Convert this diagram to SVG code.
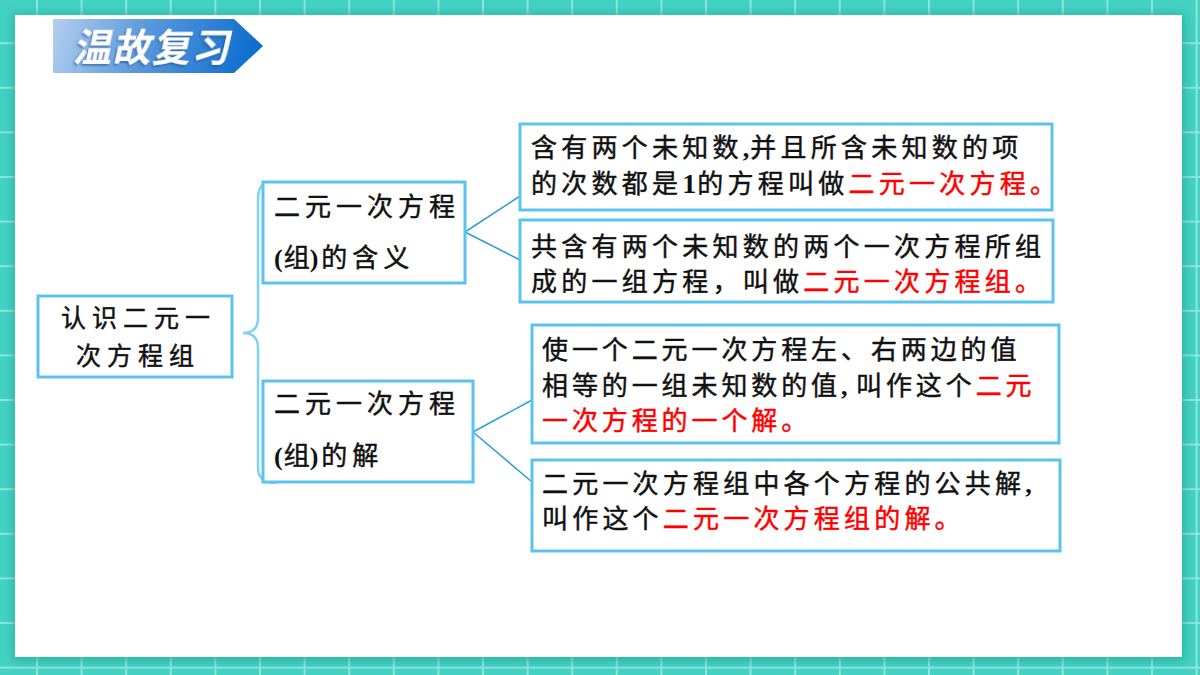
<svg xmlns="http://www.w3.org/2000/svg" width="1200" height="675" viewBox="0 0 1200 675">
<style>
.box{fill:#fff;stroke:#5BC4EE;stroke-width:3}
.t{font-family:"Noto Sans CJK SC","Noto Sans CJK JP",sans-serif;font-size:26px;fill:#111;stroke:#111;stroke-width:0.45px;letter-spacing:4.25px}
.r{fill:#FF0000;stroke:#FF0000}
.s{font-family:"Liberation Serif",serif;font-weight:bold;letter-spacing:1px;stroke-width:0}
.conn{fill:none;stroke:#2A9ED6;stroke-width:1.5}
.brace{fill:none;stroke:#80D2F2;stroke-width:2.5}
</style>
<defs>
<pattern id="grid" x="36" y="42.2" width="44.6" height="44.6" patternUnits="userSpaceOnUse">
<rect width="44.6" height="44.6" fill="#43D1C3"/>
<rect x="0" y="0" width="2" height="44.6" fill="#8FE4DB"/>
<rect x="0" y="0" width="44.6" height="2" fill="#8FE4DB"/>
</pattern>
<filter id="sh" x="-5%" y="-5%" width="110%" height="110%">
<feGaussianBlur stdDeviation="5"/>
</filter>
<linearGradient id="ban" x1="53" y1="19" x2="250" y2="80" gradientUnits="userSpaceOnUse">
<stop offset="0" stop-color="#B4CFEE"/>
<stop offset="0.45" stop-color="#5A98DC"/>
<stop offset="1" stop-color="#0A6DCE"/>
</linearGradient>
<filter id="tsh" x="-10%" y="-20%" width="120%" height="140%">
<feDropShadow dx="-1" dy="1.5" stdDeviation="0.8" flood-color="#1B4F8A" flood-opacity="0.7"/>
</filter>
</defs>

<rect width="1200" height="675" fill="url(#grid)"/>
<rect x="13" y="14" width="1172" height="647" fill="#1E9C8E" opacity="0.55" filter="url(#sh)"/>
<rect x="15" y="15" width="1167" height="642" fill="#fff"/>

<g id="title">
<path d="M53 19 H234 L263 46 L234 73 H53 Z" fill="url(#ban)"/>
<g transform="translate(73,61) skewX(-12)">
<text x="0" y="0" font-family="Noto Sans CJK SC,sans-serif" font-weight="bold" font-size="38" letter-spacing="1.5" fill="#fff" filter="url(#tsh)">温故复习</text>
</g>
</g>

<g id="connectors">
<path class="brace" d="M266 183 Q258 185 258 200 L258 318 Q258 333 243 333 Q258 333 258 348 L258 468 Q258 482 275 483"/>
<path class="conn" d="M465 232 L520 196 M465 232 L520 260"/>
<path class="conn" d="M473 432 L532 400 M473 432 L532 482"/>
</g>

<g id="root">
<rect class="box" x="38" y="296" width="194" height="81"/>
<text class="t" x="61" y="327" style="font-size:25px;letter-spacing:6px">认识二元一</text>
<text class="t" x="76" y="364.5" style="font-size:25px;letter-spacing:6px">次方程组</text>
</g>

<g id="meaning">
<rect class="box" x="263" y="182" width="202" height="101"/>
<text class="t" x="274" y="215.5" style="letter-spacing:5px">二元一次方程</text>
<text class="t" x="274" y="267" style="letter-spacing:5px"><tspan class="s">(</tspan><tspan style="letter-spacing:0px">组</tspan><tspan class="s" style="letter-spacing:3px">)</tspan>的含义</text>
</g>

<g id="solution">
<rect class="box" x="263" y="381" width="210" height="101"/>
<text class="t" x="274" y="413" style="letter-spacing:5px">二元一次方程</text>
<text class="t" x="274" y="465" style="letter-spacing:5px"><tspan class="s">(</tspan><tspan style="letter-spacing:0px">组</tspan><tspan class="s" style="letter-spacing:3px">)</tspan>的解</text>
</g>

<g id="def1">
<rect class="box" x="520" y="124" width="532" height="86"/>
<text class="t" x="531" y="156.5">含有两个未知数<tspan class="s">,</tspan>并且所含未知数的项</text>
<text class="t" x="531" y="192.5">的次数都是<tspan class="s" style="font-size:28px">1</tspan>的方程叫做<tspan class="r">二元一次方程。</tspan></text>
</g>

<g id="def2">
<rect class="box" x="520" y="220" width="533" height="82"/>
<text class="t" x="531" y="256">共含有两个未知数的两个一次方程所组</text>
<text class="t" x="531" y="290.5">成的一组方程，叫做<tspan class="r">二元一次方程组。</tspan></text>
</g>

<g id="sol1">
<rect class="box" x="532" y="325" width="527" height="118"/>
<text class="t" x="542" y="359" style="letter-spacing:3.9px">使一个二元一次方程左、右两边的值</text>
<text class="t" x="542" y="394.5" style="letter-spacing:3.9px">相等的一组未知数的值<tspan class="s">, </tspan>叫作这个<tspan class="r">二元</tspan></text>
<text class="t r" x="542" y="430" style="letter-spacing:3.9px">一次方程的一个解。</text>
</g>

<g id="sol2">
<rect class="box" x="532" y="460" width="528" height="91"/>
<text class="t" x="542" y="493" style="letter-spacing:4.2px">二元一次方程组中各个方程的公共解<tspan class="s">,</tspan></text>
<text class="t" x="542" y="528" style="letter-spacing:4.2px">叫作这个<tspan class="r">二元一次方程组的解。</tspan></text>
</g>
</svg>
